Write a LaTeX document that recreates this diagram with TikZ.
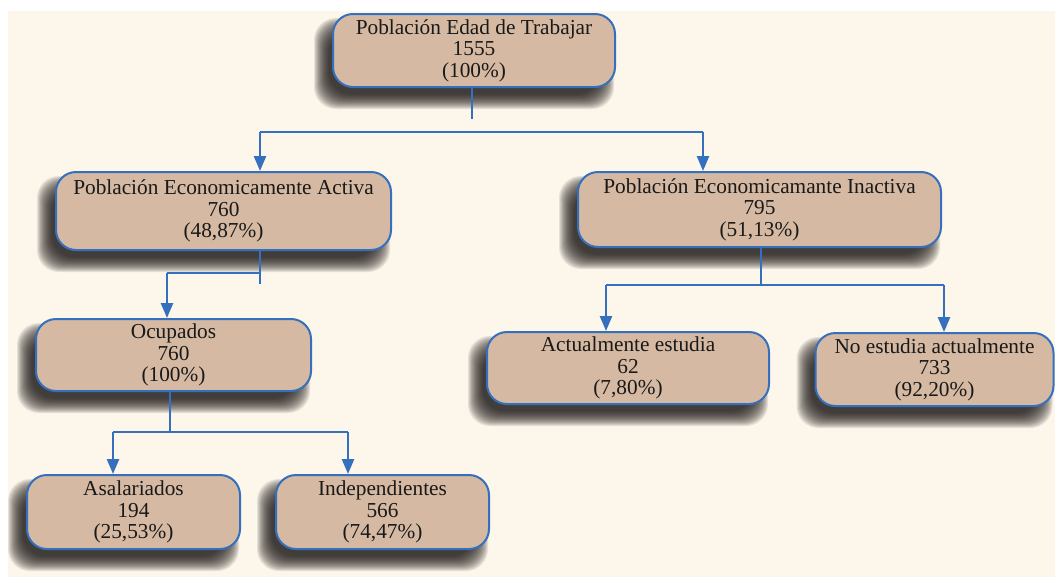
\documentclass[tikz,border=0pt]{standalone}
\usepackage{fontspec}
\setmainfont{Liberation Serif}
\usetikzlibrary{arrows.meta,backgrounds}
\definecolor{bgcream}{HTML}{FDF6EB}
\definecolor{boxtan}{HTML}{D5B9A2}
\definecolor{lineblue}{HTML}{3570BE}
\definecolor{shadowgray}{HTML}{1E1A18}
\pgfdeclarelayer{shadowlayer}
\pgfsetlayers{background,shadowlayer,main}
\tikzset{
  box/.style={draw=lineblue, line width=2pt, fill=boxtan, rounded corners=20pt,
    align=center, inner sep=0pt, font=\fontsize{21.3}{21.5}\selectfont, text=black!90},
  conn/.style={draw=lineblue, line width=2.5pt},
  arr/.style={conn, -{Triangle[length=15pt,width=12pt]}},
  shadowpiece/.style={fill=shadowgray, opacity=0.1, rounded corners=22pt}
}
\newcommand{\boxshadow}[1]{%
  \foreach \k in {-8,...,7}{%
    \fill[shadowpiece] ([shift={(-10+\k,13+\k)}]#1.north west) rectangle ([shift={(-10-\k,13-\k)}]#1.south east);
  }%
}
\begin{document}
\begin{tikzpicture}[x=1pt,y=-1pt]
\useasboundingbox (0,0) rectangle (1055,581);

\node[box, minimum width=282pt, minimum height=73pt] (top) at (474,50.5) {Población Edad de Trabajar\\1555\\(100\%)};
\node[box, minimum width=335pt, minimum height=78pt] (pea) at (223.5,211) {Población Economicamente Activa\\760\\(48,87\%)};
\node[box, minimum width=363pt, minimum height=75pt] (pei) at (759.5,209.5) {Población Economicamante Inactiva\\795\\(51,13\%)};
\node[box, minimum width=275pt, minimum height=72pt] (ocu) at (173.5,355) {Ocupados\\760\\(100\%)};
\node[box, minimum width=213pt, minimum height=74pt] (asa) at (133.5,512) {Asalariados\\194\\(25,53\%)};
\node[box, minimum width=213pt, minimum height=74pt] (ind) at (382.5,512) {Independientes\\566\\(74,47\%)};
\node[box, minimum width=282pt, minimum height=72pt] (act) at (628,368) {Actualmente estudia\\62\\(7,80\%)};
\node[box, minimum width=238pt, minimum height=73pt] (noe) at (934.5,369.5) {No estudia actualmente\\733\\(92,20\%)};

\begin{pgfonlayer}{background}
  \fill[white] (0,0) rectangle (1055,581);
  \fill[bgcream] (8,11) rectangle (1055,577);
\end{pgfonlayer}
\begin{pgfonlayer}{shadowlayer}
  \boxshadow{top}\boxshadow{pea}\boxshadow{pei}\boxshadow{ocu}
  \boxshadow{asa}\boxshadow{ind}\boxshadow{act}\boxshadow{noe}
\end{pgfonlayer}

% top branching
\coordinate (t1) at (472,119);
\coordinate (hL) at (260,132);
\coordinate (hR) at (703,132);
\draw[conn] (top.south -| t1) -- (t1);
\draw[conn] (hL) -- (hR);
\draw[arr] (hL) -- (pea.north -| hL);
\draw[arr] (hR) -- (pei.north -| hR);

% PEA -> Ocupados
\coordinate (p1) at (260,284);
\coordinate (p2) at (167,273);
\draw[conn] (pea.south -| p1) -- (p1);
\draw[conn] (p2) -- (260,273);
\draw[arr] (p2) -- (ocu.north -| p2);

% Ocupados -> children
\coordinate (o1) at (170,432);
\coordinate (oL) at (113,432);
\coordinate (oR) at (348,432);
\draw[conn] (ocu.south -| o1) -- (o1);
\draw[conn] (oL) -- (oR);
\draw[arr] (oL) -- (asa.north -| oL);
\draw[arr] (oR) -- (ind.north -| oR);

% PEI -> children
\coordinate (i1) at (761,285);
\coordinate (iL) at (606,285);
\coordinate (iR) at (944,285);
\draw[conn] (pei.south -| i1) -- (i1);
\draw[conn] (iL) -- (iR);
\draw[arr] (iL) -- (act.north -| iL);
\draw[arr] (iR) -- (noe.north -| iR);
\end{tikzpicture}
\end{document}
